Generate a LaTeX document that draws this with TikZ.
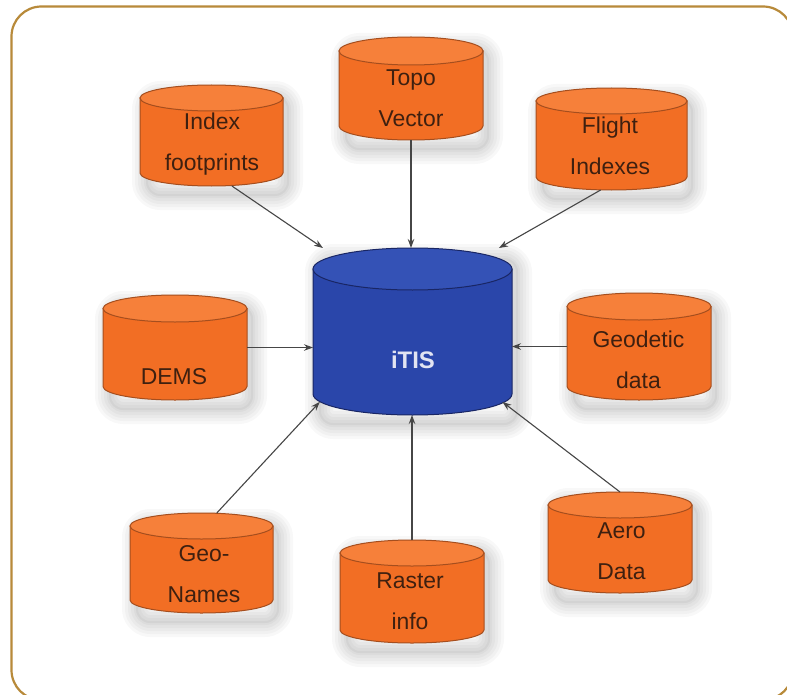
\documentclass[tikz,border=0pt]{standalone}
\usepackage{fontspec}
\setmainfont{Liberation Sans}
\usetikzlibrary{arrows.meta,calc}
\definecolor{orfill}{RGB}{242,110,36}
\definecolor{ortop}{RGB}{246,128,58}
\definecolor{orline}{RGB}{165,78,30}
\definecolor{blfill}{RGB}{42,70,170}
\definecolor{bltop}{RGB}{52,82,182}
\definecolor{blline}{RGB}{25,38,100}
\definecolor{txtbrown}{RGB}{62,32,16}
\definecolor{txtpale}{RGB}{226,228,242}
\definecolor{framegold}{RGB}{184,138,58}
\definecolor{conngray}{RGB}{70,70,70}
\newcommand\softshadow[4]{%
  \foreach \w in {4,10,16,22,28}{%
    \draw[line width=\w bp, black, opacity=0.028, rounded corners=14bp, line join=round]
      (#1+6,#2+10) rectangle (#3+6,#4+10);}
  \fill[black, opacity=0.04, rounded corners=14bp] (#1+6,#2+10) rectangle (#3+6,#4+10);
}
\newcommand\dbcyl[8]{%
  \pgfmathsetmacro\crx{(#3-#1)/2}%
  \pgfmathsetmacro\ccx{(#1+#3)/2}%
  \softshadow{#1}{#2}{#3}{#4}%
  \filldraw[fill=#6, draw=#8, line width=1bp]
    (#1,#2+#5) -- (#1,#4-#5) arc[start angle=180, end angle=0, x radius=\crx, y radius=#5]
    -- (#3,#2+#5) -- cycle;
  \filldraw[fill=#7, draw=#8, line width=1bp] (\ccx,#2+#5) ellipse[x radius=\crx, y radius=#5];
}
\tikzset{
  box/.style={rectangle, inner sep=0pt, outer sep=0pt},
  lab/.style={font=\fontsize{23}{41}\selectfont, text=txtbrown, align=center, inner sep=0pt},
  conn/.style={draw=conngray, line width=1.1bp, -{Stealth[length=9bp,width=6.5bp]}},
}
\begin{document}
\begin{tikzpicture}[x=1bp,y=-1bp]
\useasboundingbox (0,0) rectangle (787,695);
\clip (0,0) rectangle (787,695);
\fill[white] (0,0) rectangle (787,695);
\draw[framegold, line width=2.2bp, rounded corners=30bp] (11.5,6.5) rectangle (793,700);

% cylinders
\dbcyl{140}{85}{283}{186}{13}{orfill}{ortop}{orline}
\dbcyl{339}{37}{483}{140}{14}{orfill}{ortop}{orline}
\dbcyl{536}{88}{687}{190}{13}{orfill}{ortop}{orline}
\dbcyl{103}{295}{247}{400}{13.5}{orfill}{ortop}{orline}
\dbcyl{567}{293}{711}{400}{13.5}{orfill}{ortop}{orline}
\dbcyl{130}{513}{273}{613}{13}{orfill}{ortop}{orline}
\dbcyl{340}{540}{484}{643}{13}{orfill}{ortop}{orline}
\dbcyl{548}{492}{692}{593}{13}{orfill}{ortop}{orline}
\dbcyl{313}{248}{512}{415}{21}{blfill}{bltop}{blline}

% box nodes
\node[box, minimum width=143bp, minimum height=101bp] (idx) at (211.5,135.5) {};
\node[box, minimum width=144bp, minimum height=103bp] (topo) at (411,88.5) {};
\node[box, minimum width=151bp, minimum height=102bp] (flight) at (611.5,139) {};
\node[box, minimum width=144bp, minimum height=105bp] (dems) at (175,347.5) {};
\node[box, minimum width=144bp, minimum height=107bp] (geo) at (639,346.5) {};
\node[box, minimum width=143bp, minimum height=100bp] (names) at (201.5,563) {};
\node[box, minimum width=144bp, minimum height=103bp] (raster) at (412,591.5) {};
\node[box, minimum width=144bp, minimum height=101bp] (aero) at (620,542.5) {};
\node[box, minimum width=199bp, minimum height=167bp] (itis) at (412.5,331.5) {};

% labels
\node[lab] (idxt) at (212,144) {Index\\footprints};
\node[lab] (topot) at (411,98) {Topo\\Vector};
\node[lab] (flightt) at (610,145.5) {Flight\\Indexes};
\node[lab] (demst) at (174,377) {DEMS};
\node[lab] (geot) at (638.5,360) {Geodetic\\data};
\node[lab] (namest) at (204,574) {Geo-\\Names};
\node[lab] (rastert) at (410,601) {Raster\\info};
\node[lab] (aerot) at (621.5,551) {Aero\\Data};
\node[lab, text=txtpale, font=\bfseries\fontsize{24}{30}\selectfont] (itist) at (413,360) {iTIS};

% connectors
\draw[conn] (idx.-68) -- (itis.137);
\draw[conn] (topo.south) -- (topo.south |- itis.north);
\draw[conn] (flight.-102) -- (itis.44);
\draw[conn] (dems.east) -- (dems.east -| itis.west);
\draw[conn] (geo.west) -- (geo.west -| itis.east);
\draw[conn, shorten >=-10bp] (names.73) -- (itis.218);
\draw[conn] (raster.north) -- (raster.north |- itis.south);
\draw[conn, shorten >=-12bp] (aero.north) -- (itis.-38);
\end{tikzpicture}
\end{document}
